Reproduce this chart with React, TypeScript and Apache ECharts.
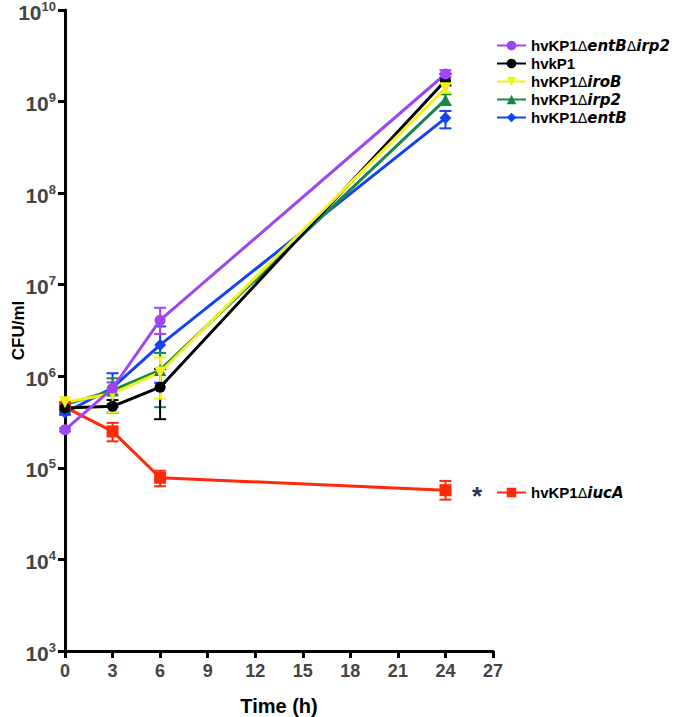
import React, { useEffect, useRef } from "react";
import * as echarts from "echarts";

const times = [0, 3, 6, 24];
const xTicks = [0, 3, 6, 9, 12, 15, 18, 21, 24, 27];

const entBirp2 = [2.6e5, 7.4e5, 4.1e6, 2.0e9];
const entBirp2Lo = [2.5e5, 6.3e5, 2.9e6, 1.85e9];
const entBirp2Hi = [2.7e5, 8.6e5, 5.6e6, 2.2e9];

const hvkp1 = [4.5e5, 4.7e5, 7.6e5, 1.7e9];
const hvkp1Lo = [4.3e5, 4.0e5, 3.4e5, 1.5e9];
const hvkp1Hi = [4.7e5, 5.5e5, 1.2e6, 2.0e9];

const iroB = [5.2e5, 6.5e5, 1.1e6, 1.4e9];
const iroBLo = [5.0e5, 4.0e5, 5.7e5, 1.25e9];
const iroBHi = [5.4e5, 8.5e5, 1.6e6, 1.6e9];

const irp2 = [4.9e5, 7.0e5, 1.17e6, 1.05e9];
const irp2Lo = [4.7e5, 5.0e5, 4.6e5, 9.2e8];
const irp2Hi = [5.1e5, 9.5e5, 1.8e6, 1.2e9];

const entB = [4.0e5, 7.5e5, 2.2e6, 6.6e8];
const entBLo = [3.8e5, 4.6e5, 8.5e5, 5.1e8];
const entBHi = [4.2e5, 1.08e6, 3.5e6, 7.9e8];

const iucA = [4.6e5, 2.5e5, 7.8e4, 5.7e4];
const iucALo = [4.4e5, 1.95e5, 6.3e4, 4.5e4];
const iucAHi = [4.8e5, 3.1e5, 9.3e4, 7.2e4];

const names = [
  "hvKP1ΔentBΔirp2",
  "hvkP1",
  "hvKP1ΔiroB",
  "hvKP1Δirp2",
  "hvKP1ΔentB",
  "hvKP1ΔiucA",
];
const labelsRich = [
  "{n|hvKP1}{d|Δ}{i|entB}{d|Δ}{i|irp2}",
  "{n|hvkP1}",
  "{n|hvKP1}{d|Δ}{i|iroB}",
  "{n|hvKP1}{d|Δ}{i|irp2}",
  "{n|hvKP1}{d|Δ}{i|entB}",
  "{n|hvKP1}{d|Δ}{i|iucA}",
];
const colors = ["#A045F2", "#000000", "#F2F21A", "#16884A", "#1443F0", "#FF2A0C"];
const symbols = ["circle", "circle", "triangle", "triangle", "diamond", "rect"];
const rotates = [0, 0, 180, 0, 0, 0];
const sizes = [11, 11, 12, 12, 12, 12];

export default function App() {
  const ref = useRef<HTMLDivElement>(null);
  useEffect(() => {
    if (!ref.current) return;
    const chart = echarts.init(ref.current, undefined, { renderer: "svg" });
    const means = [entBirp2, hvkp1, iroB, irp2, entB, iucA];
    const los = [entBirp2Lo, hvkp1Lo, iroBLo, irp2Lo, entBLo, iucALo];
    const his = [entBirp2Hi, hvkp1Hi, iroBHi, irp2Hi, entBHi, iucAHi];
    const order = [5, 4, 3, 1, 2, 0];
    const series: any[] = [];
    order.forEach((k) => {
      series.push({
        name: "err" + k,
        type: "custom",
        data: times.map((t, i) => [t, los[k][i], his[k][i]]),
        encode: { x: 0, y: [1, 2] },
        z: 2,
        renderItem: (params: any, api: any) => {
          const x = api.value(0);
          const lo = api.coord([x, api.value(1)]);
          const hi = api.coord([x, api.value(2)]);
          const w = 6;
          const st = { stroke: colors[k], lineWidth: 2 };
          return {
            type: "group",
            children: [
              { type: "line", shape: { x1: lo[0], y1: lo[1], x2: hi[0], y2: hi[1] }, style: st },
              { type: "line", shape: { x1: lo[0] - w, y1: lo[1], x2: lo[0] + w, y2: lo[1] }, style: st },
              { type: "line", shape: { x1: hi[0] - w, y1: hi[1], x2: hi[0] + w, y2: hi[1] }, style: st },
            ],
          };
        },
      });
    });
    order.forEach((k) => {
      series.push({
        name: names[k],
        type: "line",
        data: times.map((t, i) => [t, means[k][i]]),
        symbol: symbols[k],
        symbolRotate: rotates[k],
        symbolSize: sizes[k],
        showAllSymbol: true,
        z: 3,
        lineStyle: { color: colors[k], width: 3 },
        itemStyle: { color: colors[k] },
      });
    });
    const rich = {
      n: { fontFamily: "Liberation Sans", fontWeight: "bold", fontSize: 15, color: "#000" },
      d: { fontFamily: "DejaVu Sans", fontWeight: "normal", fontSize: 14, color: "#000" },
      i: { fontFamily: "DejaVu Sans", fontWeight: "bold", fontStyle: "italic", fontSize: 15, color: "#000" },
    };
    const fmt = (name: string) => labelsRich[names.indexOf(name)];
    chart.setOption({
      animation: false,
      backgroundColor: "#ffffff",
      grid: { left: 65, right: 183, top: 10, bottom: 66, containLabel: false, outerBoundsMode: "none" },
      legend: [
        {
          orient: "vertical",
          left: 491,
          top: 33,
          itemWidth: 29,
          itemHeight: 12,
          itemGap: 3,
          data: names.slice(0, 5),
          formatter: fmt,
          textStyle: { rich },
          selectedMode: false,
        },
        {
          orient: "vertical",
          left: 491,
          top: 480,
          itemWidth: 29,
          itemHeight: 12,
          data: [names[5]],
          formatter: fmt,
          textStyle: { rich },
          selectedMode: false,
        },
      ],
      xAxis: {
        type: "value",
        min: 0,
        max: 27,
        interval: 3,
        name: "Time (h)",
        nameLocation: "middle",
        nameGap: 45,
        nameMoveOverlap: false,
        nameTextStyle: { fontFamily: "Liberation Sans", fontWeight: "bold", fontSize: 20, color: "#000" },
        axisLine: { onZero: false, lineStyle: { color: "#000", width: 3 } },
        axisTick: { length: 7, lineStyle: { color: "#000", width: 3 } },
        axisLabel: {
          fontFamily: "Liberation Sans",
          fontWeight: "bold",
          fontSize: 18,
          color: "#444",
          margin: 11,
          formatter: (v: number) => (xTicks.indexOf(v) >= 0 ? String(v) : ""),
        },
        splitLine: { show: false },
      },
      yAxis: {
        type: "log",
        logBase: 10,
        min: 1e3,
        max: 1e10,
        interval: 1,
        name: "CFU/ml",
        nameLocation: "middle",
        nameGap: 38,
        nameMoveOverlap: false,
        nameTextStyle: { fontFamily: "Liberation Sans", fontWeight: "bold", fontSize: 17, color: "#000" },
        axisLine: { onZero: false, lineStyle: { color: "#000", width: 3 } },
        axisTick: { length: 7, lineStyle: { color: "#000", width: 3 } },
        axisLabel: {
          margin: 9,
          formatter: (v: number) => "{b|10}{s|" + Math.round(Math.log10(v)) + "}",
          rich: {
            b: { fontFamily: "Liberation Sans", fontWeight: "bold", fontSize: 21, color: "#444", padding: [4, 0, 0, 0] },
            s: { fontFamily: "Liberation Sans", fontWeight: "bold", fontSize: 13, color: "#444", padding: [0, 0, 8, 0] },
          },
        },
        splitLine: { show: false },
      },
      graphic: [
        {
          type: "text",
          x: 477,
          y: 496,
          style: {
            text: "*",
            fontFamily: "Liberation Sans",
            fontWeight: "bold",
            fontSize: 26,
            fill: "#2E3552",
            align: "center",
            verticalAlign: "middle",
          },
        },
      ],
      series,
    });
    return () => chart.dispose();
  }, []);
  return <div ref={ref} style={{ position: "fixed", left: 0, top: 0, width: 676, height: 717 }} />;
}
